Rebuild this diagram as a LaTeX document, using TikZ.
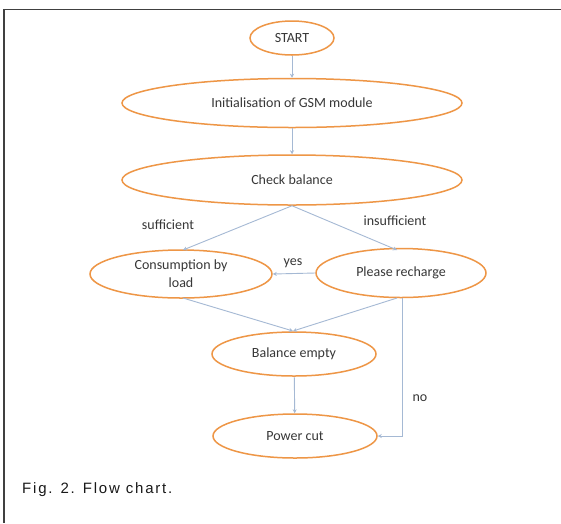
\documentclass[tikz,border=0pt]{standalone}
\usepackage{fontspec}
\setmainfont{Carlito}
\newfontfamily\capfont[LetterSpace=12]{Liberation Sans}
\usetikzlibrary{shapes.geometric,arrows.meta}
\definecolor{ellorange}{RGB}{238,150,70}
\definecolor{arrblue}{RGB}{165,185,212}
\definecolor{txtgray}{RGB}{55,55,55}
\tikzset{
  ell/.style={ellipse,draw=ellorange,line width=1.5pt,fill=white,inner sep=0pt,text=txtgray,font=\fontsize{14}{18}\selectfont,align=center},
  conn/.style={draw=arrblue,line width=0.9pt,-{Stealth[length=4pt,width=4pt]}},
  lbl/.style={text=txtgray,font=\fontsize{14}{18}\selectfont}
}
\begin{document}
\begin{tikzpicture}[x=1pt,y=-1pt]
\useasboundingbox (0,0) rectangle (561,523);
\fill[white] (0,0) rectangle (561,523);
\draw[line width=1.6pt,black!75] (561,9.5) -- (4,9.5) -- (4,523);
\node[ell,minimum width=84pt,minimum height=34pt] (start) at (292,38) {START};
\node[ell,minimum width=340pt,minimum height=49pt] (init) at (292,103) {Initialisation of GSM module};
\node[ell,minimum width=340pt,minimum height=50pt] (check) at (292,180) {Check balance};
\node[ell,minimum width=182pt,minimum height=48pt] (cons) at (181,274) {Consumption by\\load};
\node[ell,minimum width=170pt,minimum height=49pt] (rech) at (401,273) {Please recharge};
\node[ell,minimum width=164pt,minimum height=44pt] (empty) at (294,354) {Balance empty};
\node[ell,minimum width=164pt,minimum height=44pt] (cut) at (295,436) {Power cut};
\coordinate (cons top) at (183,250);
\coordinate (rech top) at (397,250);
\coordinate (cons bot) at (183,298);
\coordinate (rech bot) at (397,298);
\coordinate (empty top) at (293,331);
\coordinate (corner) at (402,436);
\draw[conn] (start) -- (init);
\draw[conn] (init) -- (check);
\draw[conn] (check.south) -- (cons top);
\draw[conn] (check.south) -- (rech top);
\draw[conn] (rech.west) -- (cons.east);
\draw[conn] (cons bot) -- (empty top);
\draw[conn] (rech bot) -- (empty top);
\draw[conn] (empty) -- (cut);
\draw[conn] (rech.south -| corner) -- (corner) -- (cut.east);
\node[lbl] (suf) at (168,225) {sufficient};
\node[lbl] (insuf) at (395,221) {insufficient};
\node[lbl] (yes) at (293,263) {yes};
\node[lbl] (no) at (420,398) {no};
\node[anchor=base west,inner sep=0pt,font=\capfont\fontsize{15}{17}\selectfont,text=black!90] (cap) at (22,493) {Fig. 2. Flow chart.};
\end{tikzpicture}
\end{document}
